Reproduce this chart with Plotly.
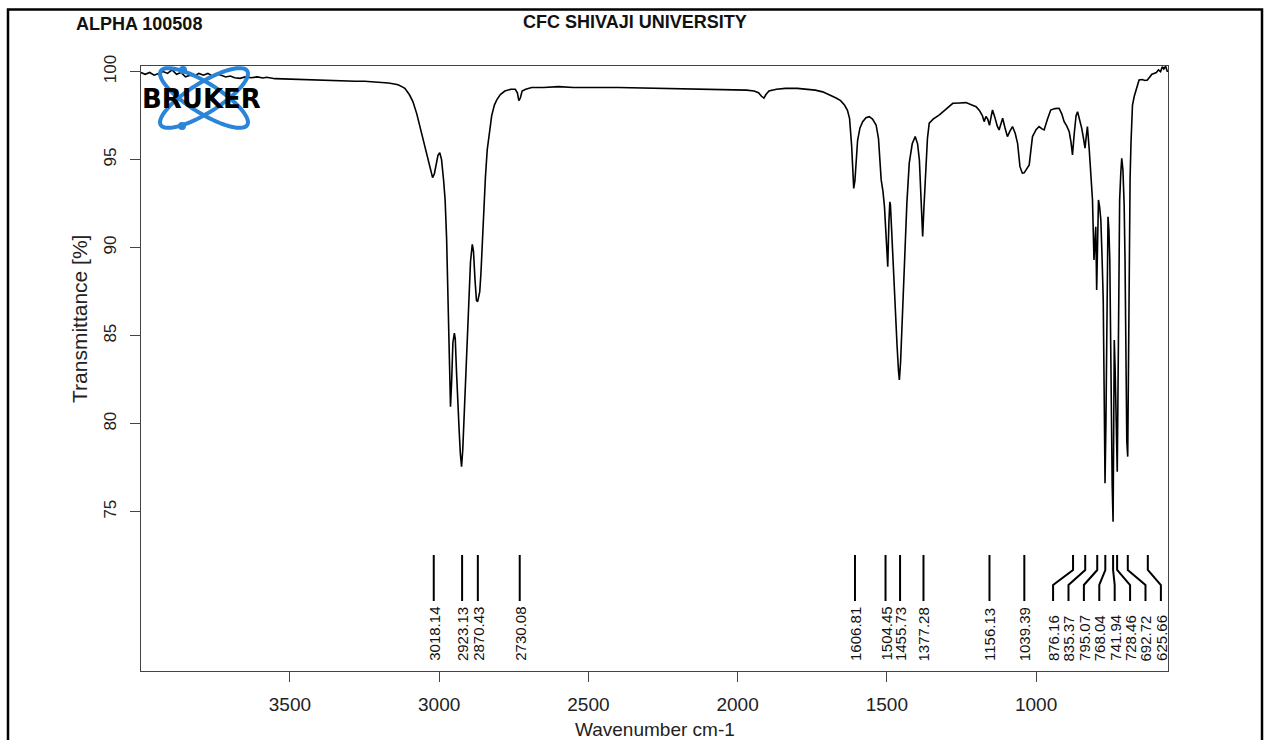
import numpy as np
import plotly.graph_objects as go

# ---------------- data ----------------
wavenumber = [
    3999, 3985, 3970, 3955, 3940, 3925, 3910, 3895, 3880, 3865, 3850, 3835, 3820, 3805, 3790,
    3775, 3760, 3745, 3730, 3715, 3700, 3685, 3667, 3650, 3630, 3610, 3590, 3578, 3550, 3520,
    3490, 3460, 3430, 3400, 3370, 3340, 3310, 3280, 3250, 3220, 3200, 3170, 3150, 3138, 3125,
    3115, 3100, 3088, 3075, 3065, 3055, 3045, 3035, 3028, 3022, 3016, 3010, 3004, 2998, 2992,
    2985, 2980, 2975, 2972, 2968, 2965, 2962, 2958, 2954, 2949, 2946, 2942, 2938, 2933, 2929,
    2925, 2921, 2916, 2912, 2906, 2901, 2895, 2889, 2885, 2880, 2875, 2871, 2868, 2864, 2860,
    2852, 2845, 2839, 2831, 2824, 2815, 2807, 2795, 2780, 2760, 2745, 2738, 2733, 2728, 2722,
    2710, 2690, 2650, 2600, 2550, 2500, 2450, 2400, 2350, 2300, 2250, 2200, 2150, 2100, 2050,
    2000, 1970, 1945, 1930, 1920, 1912, 1905, 1895, 1870, 1840, 1800, 1770, 1740, 1715, 1692,
    1670, 1655, 1642, 1632, 1625, 1618, 1614, 1611, 1607, 1603, 1598, 1590, 1581, 1570, 1559,
    1548, 1536, 1528, 1519, 1513, 1508, 1502, 1499, 1497, 1493, 1490, 1488, 1484, 1478, 1472,
    1466, 1461, 1458, 1454, 1448, 1441, 1433, 1425, 1415, 1405, 1397, 1391, 1386, 1382, 1380,
    1376, 1372, 1369, 1364, 1358, 1345, 1324, 1300, 1279, 1255, 1235, 1215, 1201, 1190, 1180,
    1174, 1168, 1162, 1156, 1150, 1146, 1138, 1130, 1124, 1118, 1112, 1104, 1096, 1088, 1079,
    1070, 1062, 1054, 1046, 1040, 1034, 1029, 1023, 1017, 1012, 1000, 990, 980, 973, 962,
    951, 937, 923, 914, 906, 897, 889, 883, 878, 872, 866, 861, 854, 847, 841,
    836, 832, 828, 822, 817, 811, 806, 803, 800, 797, 794, 791, 787, 783, 779,
    775, 772, 769, 766, 764, 761, 759, 756, 753, 750, 748, 745, 742, 740, 738,
    735, 733, 730, 728, 726, 724, 722, 720, 716, 713, 709, 705, 702, 699, 696,
    693, 690, 688, 685, 682, 677, 671, 665, 660, 655, 645, 635, 627, 620, 612,
    605, 597, 590, 583, 577, 572, 566, 560, 558,
]
transmittance = [
    99.95, 99.85, 99.95, 99.80, 99.90, 100.00, 99.90, 100.10, 99.85, 99.95, 99.70, 99.80, 99.75, 99.90, 99.80,
    99.90, 99.75, 99.87, 99.80, 99.70, 99.75, 99.65, 99.62, 99.70, 99.65, 99.70, 99.64, 99.68, 99.60, 99.58,
    99.60, 99.55, 99.55, 99.52, 99.50, 99.48, 99.47, 99.45, 99.45, 99.42, 99.40, 99.35, 99.30, 99.25, 99.15,
    99.05, 98.70, 98.30, 97.60, 96.90, 96.20, 95.50, 94.80, 94.30, 93.98, 94.20, 94.80, 95.25, 95.40, 95.00,
    93.80, 92.70, 90.50, 88.00, 85.50, 83.80, 80.97, 82.50, 84.60, 85.14, 84.80, 83.00, 81.00, 79.60, 78.30,
    77.56, 78.50, 80.50, 82.30, 85.00, 87.40, 89.20, 90.19, 89.80, 88.20, 87.00, 86.93, 87.30, 87.50, 88.56,
    91.76, 94.00, 95.55, 96.60, 97.50, 98.10, 98.40, 98.70, 98.90, 99.00, 99.00, 98.80, 98.35, 98.50, 98.90,
    99.00, 99.10, 99.10, 99.15, 99.10, 99.12, 99.10, 99.10, 99.08, 99.10, 99.05, 99.05, 99.00, 99.02, 98.98,
    98.95, 98.95, 98.90, 98.80, 98.60, 98.50, 98.70, 98.90, 99.00, 99.05, 99.05, 99.00, 98.95, 98.85, 98.68,
    98.50, 98.35, 98.10, 97.80, 97.35, 95.80, 94.30, 93.37, 93.80, 95.20, 96.10, 96.80, 97.16, 97.38, 97.44,
    97.30, 96.97, 96.20, 93.85, 93.20, 92.33, 90.50, 89.20, 88.92, 91.50, 92.60, 92.43, 91.00, 88.50, 86.50,
    84.50, 83.00, 82.48, 83.50, 86.00, 89.30, 92.50, 94.80, 95.90, 96.31, 95.90, 94.98, 93.00, 91.20, 90.63,
    92.20, 93.80, 94.98, 96.20, 97.07, 97.30, 97.54, 97.90, 98.20, 98.22, 98.24, 98.10, 98.01, 97.80, 97.50,
    97.16, 97.45, 97.30, 96.95, 97.50, 97.82, 97.40, 96.90, 96.69, 97.10, 97.35, 96.80, 96.31, 96.60, 96.88,
    96.50, 95.93, 94.60, 94.23, 94.25, 94.40, 94.60, 94.70, 95.60, 96.31, 96.70, 96.88, 96.75, 96.69, 97.30,
    97.82, 97.90, 97.92, 97.60, 97.16, 96.90, 96.59, 96.00, 95.27, 96.50, 97.50, 97.72, 97.30, 96.78, 96.20,
    95.65, 96.30, 96.88, 95.60, 94.41, 92.71, 89.30, 90.50, 91.19, 87.60, 90.00, 92.71, 92.30, 91.57, 89.50,
    87.03, 82.00, 76.61, 80.00, 84.19, 88.50, 91.76, 91.00, 89.30, 84.50, 79.83, 76.50, 74.43, 79.00, 84.76,
    83.00, 80.59, 78.50, 77.27, 81.00, 85.51, 89.50, 92.71, 94.30, 95.08, 94.41, 92.50, 89.30, 84.00, 79.00,
    78.13, 85.00, 91.19, 94.00, 95.93, 98.10, 98.60, 98.96, 99.30, 99.53, 99.55, 99.50, 99.53, 99.70, 99.85,
    99.90, 99.95, 100.10, 100.00, 100.28, 100.15, 100.30, 100.00, 100.05,
]

peak_positions = [3018.14, 2923.13, 2870.43, 2730.08, 1606.81, 1504.45, 1455.73, 1377.28,
                  1156.13, 1039.39, 876.16, 835.37, 795.07, 768.04, 741.94, 728.46, 692.72, 625.66]
peak_labels = ["3018.14", "2923.13", "2870.43", "2730.08", "1606.81", "1504.45", "1455.73", "1377.28",
               "1156.13", "1039.39", "876.16", "835.37", "795.07", "768.04", "741.94", "728.46",
               "692.72", "625.66"]

x_tickvals = [3500, 3000, 2500, 2000, 1500, 1000]
y_tickvals = [75, 80, 85, 90, 95, 100]

title_left = "ALPHA 100508"
title_center = "CFC SHIVAJI UNIVERSITY"
x_title = "Wavenumber cm-1"
y_title = "Transmittance [%]"
logo_text = "BRUKER"

# ---------------- layout geometry ----------------
W, H = 1267, 740
L, R, T, B = 141, 1168, 66, 671
XR = [3999, 558]
YR = [65.95, 100.32]


def px2paper_x(px):
    return (px - L) / (R - L)


def py2paper_y(py):
    return (B - py) / (B - T)


def py2data_y(py):
    return YR[1] - (py - T) / (B - T) * (YR[1] - YR[0])


# ---------------- label spreading (avoid overlapping peak labels) ----------------
def spread_labels(pos, detect_gap, spacing):
    clusters = [[p] for p in pos]
    changed = True
    while changed:
        changed = False
        new = []
        for c in clusters:
            if new:
                prev = new[-1]
                pc = sum(prev) / len(prev)
                prev_low = pc - (len(prev) - 1) / 2 * spacing
                cc = sum(c) / len(c)
                c_high = cc + (len(c) - 1) / 2 * spacing
                if prev_low - c_high < detect_gap:
                    new[-1] = prev + c
                    changed = True
                    continue
            new.append(c)
        clusters = new
    out = []
    for c in clusters:
        m = sum(c) / len(c)
        n = len(c)
        if n == 1:
            out.append(c[0])
        else:
            out += [m + ((n - 1) / 2 - i) * spacing + 4.5 for i in range(n)]
    return out


label_x = spread_labels(peak_positions, 45, 51.6)

y_top = py2data_y(555)
y_b1 = py2data_y(570)
y_b2 = py2data_y(585)
y_bot = py2data_y(601)
y_text = py2data_y(663)

mx, my = [], []
for p, lx in zip(peak_positions, label_x):
    mx += [p, p, lx, lx, None]
    my += [y_top, y_b1, y_b2, y_bot, None]

fig = go.Figure()
fig.add_trace(go.Scatter(x=wavenumber, y=transmittance, mode="lines",
                         line=dict(color="black", width=1.6), hoverinfo="skip"))
fig.add_trace(go.Scatter(x=mx, y=my, mode="lines",
                         line=dict(color="black", width=2), hoverinfo="skip"))

FONT = "Liberation Sans, Arial, Helvetica, sans-serif"
annotations = []
for lx, lab in zip(label_x, peak_labels):
    annotations.append(dict(x=lx, y=y_text, xref="x", yref="y", text=lab, showarrow=False,
                            textangle=-90, xanchor="center", yanchor="bottom",
                            font=dict(family=FONT, size=15, color="#111")))

annotations += [
    dict(x=px2paper_x(74), y=py2paper_y(24), xref="paper", yref="paper", text=title_left,
         showarrow=False, xanchor="left", yanchor="middle",
         font=dict(family=FONT, size=18, color="#111", weight="bold")),
    dict(x=px2paper_x(635), y=py2paper_y(22), xref="paper", yref="paper", text=title_center,
         showarrow=False, xanchor="center", yanchor="middle",
         font=dict(family=FONT, size=18, color="#111", weight="bold")),
    dict(x=0.5, y=py2paper_y(729), xref="paper", yref="paper", text=x_title,
         showarrow=False, xanchor="center", yanchor="middle",
         font=dict(family=FONT, size=19, color="#222")),
    dict(x=px2paper_x(79), y=py2paper_y(319), xref="paper", yref="paper", text=y_title,
         showarrow=False, xanchor="center", yanchor="middle", textangle=-90,
         font=dict(family=FONT, size=21, color="#222")),
]

# ---------------- Bruker logo (decorative ellipses + text) ----------------
shapes = []
cx, cy, a, b = 204, 98, 51, 15
tt = np.linspace(0, 2 * np.pi, 80)
for ang in (32, -32):
    th = np.radians(ang)
    xs = cx + a * np.cos(tt) * np.cos(th) - b * np.sin(tt) * np.sin(th)
    ys = cy + a * np.cos(tt) * np.sin(th) + b * np.sin(tt) * np.cos(th)
    path = "M " + " L ".join(f"{px2paper_x(x):.5f},{py2paper_y(y):.5f}" for x, y in zip(xs, ys)) + " Z"
    shapes.append(dict(type="path", path=path, xref="paper", yref="paper",
                       line=dict(color="#2a84d8", width=4), layer="above"))
for (dx, dy) in ((183, 70), (182, 126)):
    shapes.append(dict(type="circle", xref="paper", yref="paper",
                       x0=px2paper_x(dx - 4), x1=px2paper_x(dx + 4),
                       y0=py2paper_y(dy + 4), y1=py2paper_y(dy - 4),
                       fillcolor="#2a84d8", line=dict(width=0), layer="above"))
annotations.append(dict(x=px2paper_x(201), y=py2paper_y(99), xref="paper", yref="paper",
                        text=logo_text, showarrow=False, xanchor="center", yanchor="middle",
                        font=dict(family="DejaVu Sans", size=26, color="black", weight="bold")))

# outer page frame
shapes.append(dict(type="rect", xref="paper", yref="paper",
                   x0=px2paper_x(8), x1=px2paper_x(1262),
                   y0=py2paper_y(760), y1=py2paper_y(9.5),
                   line=dict(color="black", width=2.5), layer="above"))

fig.update_layout(
    width=W, height=H,
    margin=dict(l=L, r=W - R, t=T, b=H - B, pad=0),
    paper_bgcolor="white", plot_bgcolor="white",
    showlegend=False,
    annotations=annotations,
    shapes=shapes,
    xaxis=dict(range=XR, tickvals=x_tickvals, ticktext=[str(v) for v in x_tickvals],
               showgrid=False, zeroline=False, showline=True, mirror=True,
               linecolor="#444", linewidth=1, ticks="outside", ticklen=10,
               tickcolor="#444", tickfont=dict(family=FONT, size=19, color="#222"),
               ticklabelstandoff=6),
    yaxis=dict(range=YR, tickvals=y_tickvals, ticktext=[str(v) for v in y_tickvals],
               showgrid=False, zeroline=False, showline=True, mirror=True,
               linecolor="#444", linewidth=1, ticks="outside", ticklen=10,
               tickcolor="#444", tickangle=-90,
               tickfont=dict(family=FONT, size=17, color="#222"),
               ticklabelstandoff=7),
)

fig.write_html("out.html")
